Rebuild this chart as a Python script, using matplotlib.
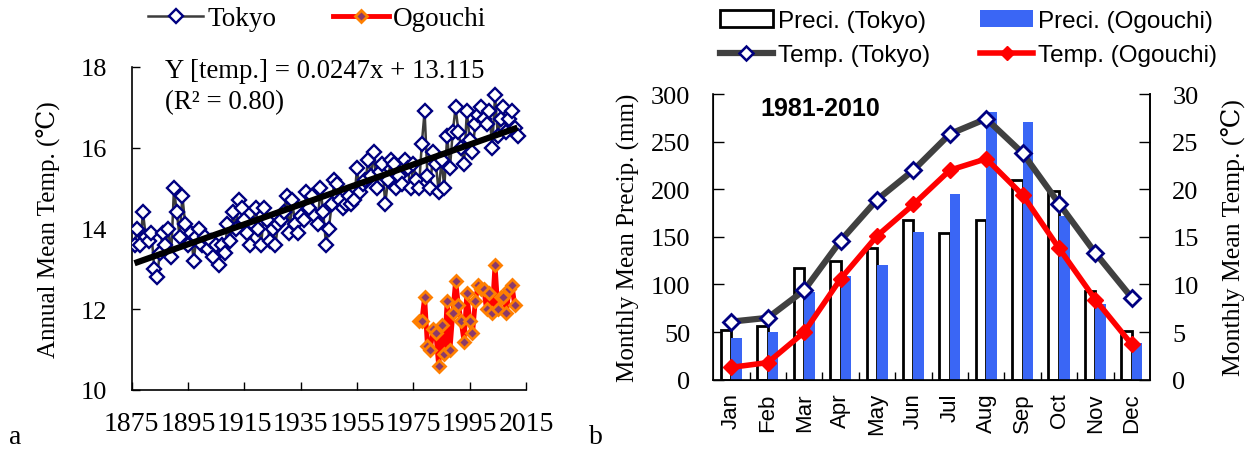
import matplotlib
matplotlib.use('Agg')
import matplotlib.pyplot as plt
import numpy as np
from matplotlib.lines import Line2D
from matplotlib.patches import Patch
from matplotlib.ticker import FixedLocator, MultipleLocator

SERIF = ['Liberation Serif', 'DejaVu Serif', 'Noto Sans CJK JP']
SANS = ['Liberation Sans', 'DejaVu Sans', 'Noto Sans CJK JP']
plt.rcParams['font.family'] = SERIF

# ---------------- data: panel a ----------------
tokyo_years = list(range(1876, 2013))
tokyo_temp = [
    13.6, 14.0, 13.6, 14.4, 13.8, 13.7, 13.9, 13.0, 12.8, 13.4,   # 1876-1885
    13.9, 13.6, 14.0, 13.3, 15.0, 14.4, 13.8, 14.8, 14.1, 13.6,   # 1886-1895
    13.9, 13.2, 13.8, 14.0, 13.6, 13.8, 13.5, 13.7, 13.3, 13.6,   # 1896-1905
    13.1, 13.6, 13.4, 14.1, 13.7, 14.4, 14.0, 14.7, 14.5, 14.2,   # 1906-1915
    13.9, 13.6, 14.1, 14.5, 14.0, 13.6, 14.5, 14.2, 13.7, 14.0,   # 1916-1925
    13.6, 14.1, 14.2, 14.4, 14.8, 13.9, 14.7, 14.1, 13.9, 14.3,   # 1926-1935
    14.2, 14.9, 14.5, 14.8, 14.3, 14.1, 15.0, 14.4, 13.6, 14.0,   # 1936-1945
    14.6, 15.2, 15.1, 14.7, 14.5, 14.6, 14.8, 14.6, 14.7, 15.5,   # 1946-1955
    14.9, 15.1, 15.2, 15.7, 15.3, 15.9, 15.0, 15.4, 15.6, 14.6,   # 1956-1965
    15.2, 15.7, 15.6, 15.0, 15.3, 15.1, 15.7, 15.5, 15.0, 15.6,   # 1966-1975
    15.2, 15.0, 16.1, 16.9, 15.3, 15.0, 15.9, 15.6, 14.9, 15.7,   # 1976-1985
    15.0, 16.3, 15.5, 16.4, 17.0, 16.4, 16.0, 15.6, 16.9, 16.2,   # 1986-1995
    15.9, 16.6, 16.8, 17.0, 16.7, 16.6, 16.9, 16.0, 17.3, 16.3,   # 1996-2005
    16.7, 17.0, 16.4, 16.7, 16.9, 16.5, 16.3,                     # 2006-2012
]
ogouchi_years = list(range(1977, 2012))
ogouchi_temp = [
    11.7, 11.7, 12.3, 11.1, 11.0, 11.5, 11.4, 10.6, 11.6, 10.9,
    12.2, 11.0, 11.9, 12.7, 12.1, 11.7, 11.2, 12.4, 11.7, 11.4,
    12.2, 12.6, 12.5, 12.5, 12.0, 12.4, 11.9, 13.1, 12.0, 12.3,
    12.3, 11.9, 12.5, 12.6, 12.1,
]
TREND_SLOPE = 0.0247
TREND_INTERCEPT = 13.115
TREND_ORIGIN = 1875
trend_years = [1876, 2012]
year_ticks = [1875, 1895, 1915, 1935, 1955, 1975, 1995, 2015]
temp_ticks = [10, 12, 14, 16, 18]

# ---------------- data: panel b ----------------
months = ['Jan', 'Feb', 'Mar', 'Apr', 'May', 'Jun',
          'Jul', 'Aug', 'Sep', 'Oct', 'Nov', 'Dec']
precip_tokyo = [52.5, 56, 117, 125, 138, 168, 154, 168, 210, 198, 93, 51.5]
precip_ogouchi = [44, 50, 92, 109, 120, 155, 195, 281, 271, 172, 80, 39]
temp_tokyo_m = [6.1, 6.5, 9.4, 14.6, 18.9, 22.0, 25.8, 27.4, 23.8, 18.5, 13.3, 8.6]
temp_ogouchi_m = [1.3, 1.8, 5.0, 10.6, 15.1, 18.4, 22.0, 23.2, 19.4, 13.8, 8.4, 3.7]

W, H = 1250, 452
fig = plt.figure(figsize=(W / 100, H / 100), dpi=100)

def fx(px):
    return px / W

def fy(py):
    return 1 - py / H

# ================= panel a =================
axa = fig.add_axes([fx(131.7), fy(391), fx(526 - 131.7), fy(68) - fy(391)])
axa.plot(tokyo_years, tokyo_temp, color='#3C3C3C', lw=1.8, marker='D', ms=7.5,
         mfc='white', mec='#000080', mew=1.7, zorder=3)
axa.plot(ogouchi_years, ogouchi_temp, color='#FF0000', lw=3.5, marker='D', ms=6.5,
         mfc='#8B3A6B', mec='#FF7F00', mew=2, zorder=3)
tx = np.array(trend_years)
axa.plot(tx, TREND_SLOPE * (tx - TREND_ORIGIN) + TREND_INTERCEPT, color='black',
         lw=4.5, zorder=4, solid_capstyle='butt')
axa.set_xlim(1875, 2015)
axa.set_ylim(10, 18)
axa.set_xticks(year_ticks)
axa.set_yticks(temp_ticks)
axa.spines['top'].set_visible(False)
axa.spines['right'].set_visible(False)
axa.tick_params(direction='in', length=6, width=1)
axa.tick_params(axis='x', pad=15, labelsize=20)
axa.tick_params(axis='y', pad=18, labelsize=19)
for s in ['left', 'bottom']:
    axa.spines[s].set_linewidth(1.2)
axa.set_ylabel('Annual Mean Temp. (℃)', fontsize=18, labelpad=14)
fig.text(fx(165), fy(72), 'Y [temp.] = 0.0247x + 13.115', fontsize=19.3,
         va='center', ha='left')
fig.text(fx(165), fy(103), '(R² = 0.80)', fontsize=19.3, va='center', ha='left')

h_tokyo = Line2D([], [], color='#3C3C3C', lw=1.8, marker='D', ms=7.5,
                 mfc='white', mec='#000080', mew=1.7)
h_ogou = Line2D([], [], color='#FF0000', lw=3.5, marker='D', ms=6.5,
                mfc='#8B3A6B', mec='#FF7F00', mew=2)
fig.legend([h_tokyo, h_ogou], ['Tokyo', 'Ogouchi'], ncol=2, frameon=False,
           loc='center', bbox_to_anchor=(fx(317), fy(20)), fontsize=19.5,
           handlelength=2.05, handletextpad=0.15, columnspacing=2.1,
           borderaxespad=0, borderpad=0)

fig.text(fx(15), fy(438), 'a', fontsize=20, ha='center', va='center')
fig.text(fx(596), fy(438), 'b', fontsize=20, ha='center', va='center')

# ================= panel b =================
axb = fig.add_axes([fx(713.3), fy(380.7), fx(1150 - 713.3), fy(95) - fy(380.7)])
x = np.arange(len(months))
bw = 0.29
axb.bar(x - bw / 2, precip_tokyo, width=bw, facecolor='white',
        edgecolor='black', linewidth=2, zorder=2)
axb.bar(x + bw / 2, precip_ogouchi, width=bw, facecolor='#3A66F5',
        edgecolor='none', zorder=2)
axb.set_xlim(-0.5, 11.5)
axb.set_ylim(0, 300)
axb.yaxis.set_major_locator(MultipleLocator(50))
axb.set_xticks(x)
axb.set_xticklabels(months, rotation=90, fontsize=16, family=SANS)
axb.xaxis.set_minor_locator(FixedLocator(np.arange(0.5, 11.5, 1)))
axb.tick_params(axis='x', which='major', length=0, pad=9)
axb.tick_params(axis='x', which='minor', direction='in', length=6, width=1)
axb.tick_params(axis='y', direction='in', length=8, labelsize=19, width=1, pad=16.5)
axb.spines['top'].set_visible(False)
for s in ['left', 'bottom', 'right']:
    axb.spines[s].set_linewidth(1.2)
axb.set_ylabel('Monthly Mean Precip. (mm)', fontsize=18, labelpad=8)

axt = axb.twinx()
axt.set_ylim(0, 30)
axt.yaxis.set_major_locator(MultipleLocator(5))
axt.plot(x, temp_tokyo_m, color='#404040', lw=4.5, marker='D', ms=8.5,
         mfc='white', mec='#000080', mew=2, zorder=4)
axt.plot(x, temp_ogouchi_m, color='#FF0000', lw=4, marker='D', ms=8,
         mfc='#FF0000', mec='#FF0000', zorder=3)
axt.tick_params(axis='y', direction='in', length=8, labelsize=19, width=1, pad=16)
axt.spines['top'].set_visible(False)
axt.spines['right'].set_linewidth(1.2)
axt.set_ylabel('Monthly Mean Temp. (℃)', fontsize=18.5, labelpad=16)

axb.text(fx(760 - 713.3) / fx(1150 - 713.3), 0.95, '1981-2010',
         transform=axb.transAxes, fontsize=18, fontweight='bold', family=SANS,
         va='center', ha='left')

hb1 = Patch(facecolor='white', edgecolor='black', linewidth=2)
hb2 = Patch(facecolor='#3A66F5', edgecolor='none')
hl1 = Line2D([], [], color='#404040', lw=4.5, marker='D', ms=7,
             mfc='white', mec='#000080', mew=1.8)
hl2 = Line2D([], [], color='#FF0000', lw=4, marker='D', ms=7,
             mfc='#FF0000', mec='#FF0000')
fig.legend([hb1, hl1, hb2, hl2],
           ['Preci. (Tokyo)', 'Temp. (Tokyo)', 'Preci. (Ogouchi)', 'Temp. (Ogouchi)'],
           ncol=2, frameon=False, loc='center', bbox_to_anchor=(fx(968.5), fy(39)),
           prop={'family': SANS, 'size': 17.5}, handlelength=2.2,
           handletextpad=0.2, columnspacing=2.05, labelspacing=0.5,
           borderaxespad=0, borderpad=0)

fig.savefig('out.png', dpi=100)
